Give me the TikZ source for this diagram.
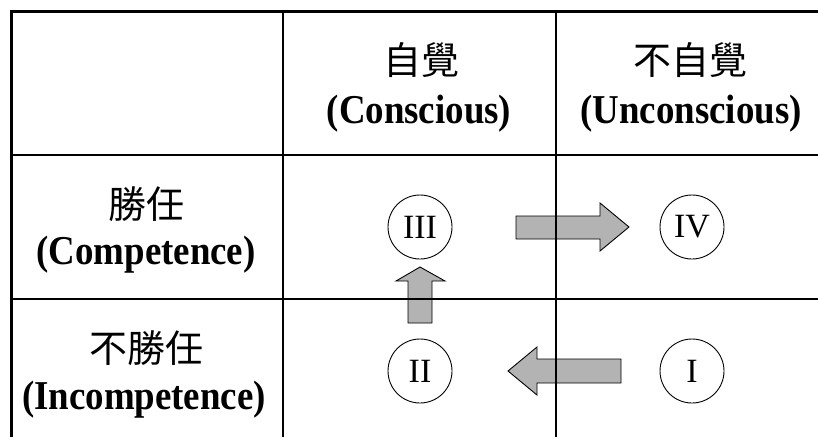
\documentclass[tikz,border=0pt]{standalone}
\usepackage{fontspec}
\usepackage{graphicx}
\setmainfont{Liberation Serif}
\newfontfamily\cjk{Noto Sans CJK TC}
\newcommand{\narrowtext}[1]{\scalebox{0.9}[1]{#1}}
\begin{document}
\begin{tikzpicture}[x=1pt,y=-1pt,
  thickrule/.style={line width=3pt},
  thinrule/.style={line width=1.4pt},
  blockarrow/.style={fill={rgb,255:red,179;green,179;blue,179},draw=black,line width=0.9pt,line join=miter},
  stage/.style={circle,draw,line width=0.9pt,minimum size=64pt,inner sep=0pt,font=\fontsize{34}{34}\selectfont},
  cjklabel/.style={font=\cjk\fontsize{38}{42}\selectfont,inner sep=0pt},
  enlabel/.style={font=\fontsize{41}{46}\selectfont\bfseries,inner sep=0pt}]
\useasboundingbox (0,0) rectangle (818,437);
% block arrows
\draw[blockarrow] (516,216) -- (600,216) -- (600,203) -- (629,227) -- (600,251) -- (600,239) -- (516,239) -- cycle;
\draw[blockarrow] (621,359) -- (537,359) -- (537,347) -- (508,371) -- (537,395) -- (537,383) -- (621,383) -- cycle;
\draw[blockarrow] (408,323) -- (408,281) -- (396,281) -- (420,267) -- (445,281) -- (432,281) -- (432,323) -- cycle;
% grid
\coordinate (tl) at (11,11);
\coordinate (tr) at (818,11);
\coordinate (bl) at (11,437);
\coordinate (c1t) at (283,11);
\coordinate (c1b) at (283,437);
\coordinate (c2t) at (556,11);
\coordinate (c2b) at (556,437);
\coordinate (r1l) at (11,155);
\coordinate (r1r) at (818,155);
\coordinate (r2l) at (11,299);
\coordinate (r2r) at (818,299);
\draw[thinrule] (c1t) -- (c1b);
\draw[thinrule] (c2t) -- (c2b);
\draw[thinrule] (r1l) -- (r1r);
\draw[thinrule] (r2l) -- (r2r);
\draw[thickrule] (tr) -- (tl) -- (bl);
% headers
\node[cjklabel] (h1c) at (421,60) {自覺};
\node[enlabel] (h1e) at (419,114) {\narrowtext{(Conscious)}};
\node[cjklabel] (h2c) at (690,60) {不自覺};
\node[enlabel] (h2e) at (691,114) {\narrowtext{(Unconscious)}};
\node[cjklabel] (r1c) at (146,204) {勝任};
\node[enlabel] (r1e) at (146,255) {\narrowtext{(Competence)}};
\node[cjklabel] (r2c) at (146,348) {不勝任};
\node[enlabel] (r2e) at (144,400) {\narrowtext{(Incompetence)}};
% stages
\node[stage] (s3) at (420,227) {III};
\node[stage] (s4) at (692,227) {IV};
\node[stage] (s2) at (420,371) {II};
\node[stage] (s1) at (692,371) {I};
\end{tikzpicture}
\end{document}
